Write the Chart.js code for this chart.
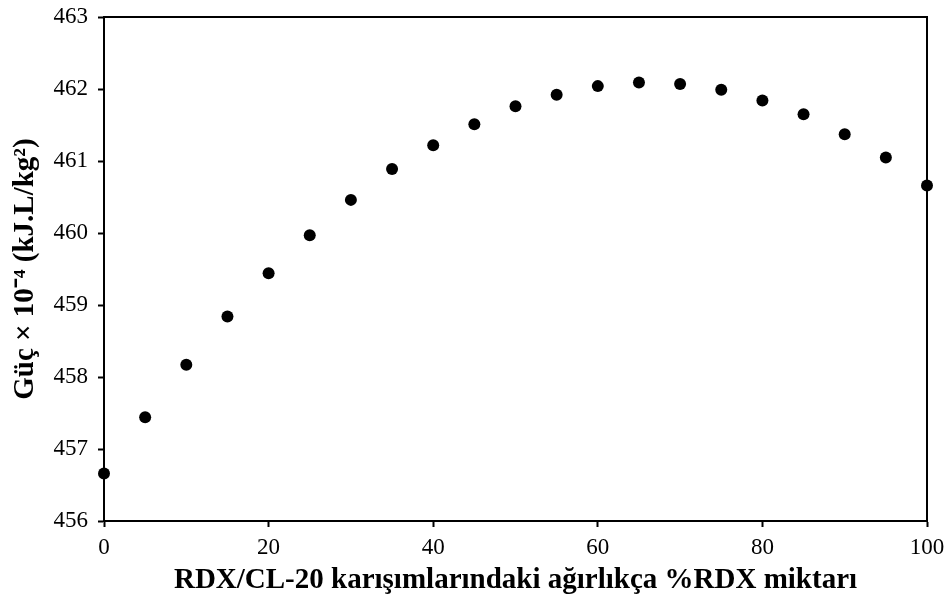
<!DOCTYPE html>
<html>
<head>
<meta charset="utf-8">
<script src="https://cdn.jsdelivr.net/npm/chart.js@4.4.1/dist/chart.umd.min.js"></script>
<style>
  html, body { margin: 0; padding: 0; background: #fff; }
</style>
</head>
<body>
<canvas id="guc" width="948" height="604"></canvas>
<script>
// % RDX in RDX/CL-20 mixtures
const rdxPercent = [0, 5, 10, 15, 20, 25, 30, 35, 40, 45, 50, 55, 60, 65, 70, 75, 80, 85, 90, 95, 100];
// power x 10^-4 (kJ.L/kg2)
const power = [456.66, 457.44, 458.17, 458.84, 459.44, 459.97, 460.46, 460.89, 461.22, 461.51,
               461.76, 461.92, 462.04, 462.09, 462.07, 461.99, 461.84, 461.65, 461.37, 461.05, 460.66];

const xTitle = 'RDX/CL-20 karışımlarındaki ağırlıkça %RDX miktarı';
const yTitle = 'Güç × 10⁻⁴ (kJ.L/kg²)';

const serif = '"Liberation Serif", "Times New Roman", serif';

// draws top and right frame lines
const frame = {
    id: 'frame',
    afterDatasetsDraw(chart) {
        const { ctx, chartArea: a } = chart;
        ctx.save();
        ctx.strokeStyle = '#000';
        ctx.lineWidth = 2;
        ctx.beginPath();
        ctx.moveTo(a.left, a.top);
        ctx.lineTo(a.right, a.top);
        ctx.lineTo(a.right, a.bottom);
        ctx.stroke();
        ctx.restore();
    }
};

new Chart(document.getElementById('guc'), {
    type: 'scatter',
    data: {
        datasets: [{
            data: rdxPercent.map((x, i) => ({ x, y: power[i] })),
            backgroundColor: '#000',
            borderWidth: 0,
            pointRadius: 6,
            pointHoverRadius: 6,
            clip: false
        }]
    },
    options: {
        responsive: false,
        animation: false,
        layout: { padding: { top: 17, right: 21, left: 0, bottom: 0 } },
        plugins: { legend: { display: false }, tooltip: { enabled: false } },
        scales: {
            x: {
                min: 0, max: 100,
                afterFit: s => { s.height = 83; s.paddingLeft = 0; s.paddingRight = 0; },
                ticks: { stepSize: 20, color: '#000', padding: 7, font: { family: serif, size: 23 } },
                grid: { drawOnChartArea: false, tickLength: 6, tickColor: '#000', tickWidth: 2 },
                border: { color: '#000', width: 2 },
                title: { display: true, text: xTitle, color: '#000', padding: { bottom: 6 },
                         font: { family: serif, size: 29, weight: 'bold' } }
            },
            y: {
                min: 456, max: 463,
                afterFit: s => { s.width = 104; s.paddingTop = 0; s.paddingBottom = 0; },
                ticks: { stepSize: 1, color: '#000', padding: 10, font: { family: serif, size: 23 } },
                grid: { drawOnChartArea: false, tickLength: 6, tickColor: '#000', tickWidth: 2 },
                border: { color: '#000', width: 2 },
                title: { display: true, text: yTitle, color: '#000', padding: { top: 8 },
                         font: { family: serif, size: 29, weight: 'bold' } }
            }
        }
    },
    plugins: [frame]
});
</script>
</body>
</html>
